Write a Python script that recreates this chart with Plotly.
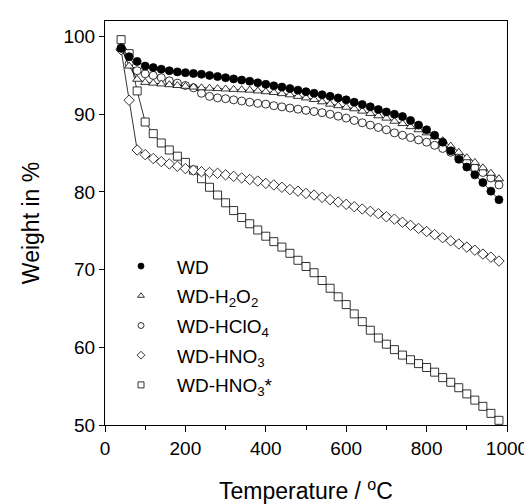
import plotly.graph_objects as go

temp = [40, 60, 80, 100, 120, 140, 160, 180, 200, 220, 240, 260, 280, 300, 320, 340,
        360, 380, 400, 420, 440, 460, 480, 500, 520, 540, 560, 580, 600, 620, 640, 660,
        680, 700, 720, 740, 760, 780, 800, 820, 840, 860, 880, 900, 920, 940, 960, 980]

wd = [98.5, 97.4, 96.8, 96.2, 96.0, 95.8, 95.6, 95.45, 95.35, 95.25, 95.15, 95.0,
      94.85, 94.7, 94.55, 94.4, 94.25, 94.05, 93.85, 93.65, 93.5, 93.3, 93.1, 92.9,
      92.7, 92.5, 92.3, 92.1, 91.85, 91.55, 91.25, 90.95, 90.6, 90.3, 90.0, 89.7,
      89.2, 88.6, 88.0, 87.3, 86.4, 85.3, 84.2, 83.2, 82.2, 81.2, 80.1, 79.0]

wd_h2o2 = [98.6, 96.2, 94.5, 94.1, 94.0, 93.9, 93.8, 93.7, 93.6, 93.5, 93.4, 93.35,
           93.3, 93.25, 93.2, 93.15, 93.1, 93.0, 92.9, 92.8, 92.65, 92.5, 92.3, 92.1,
           91.9, 91.6, 91.3, 91.1, 90.9, 90.7, 90.4, 90.1, 89.8, 89.5, 89.1, 88.8,
           88.4, 88.0, 87.6, 87.1, 86.6, 85.9, 85.1, 84.4, 83.8, 83.1, 82.4, 81.7]

wd_hclo4 = [98.5, 96.5, 95.6, 95.2, 95.0, 94.7, 94.3, 94.0, 93.7, 93.4, 92.7, 92.3,
            92.1, 92.0, 91.85, 91.7, 91.55, 91.4, 91.3, 91.1, 90.95, 90.8, 90.65, 90.5,
            90.35, 90.2, 90.0, 89.75, 89.5, 89.2, 88.9, 88.6, 88.3, 88.0, 87.6, 87.3,
            87.0, 86.7, 86.4, 86.0, 85.6, 85.1, 84.5, 83.8, 83.1, 82.5, 81.8, 80.9]

wd_hno3 = [98.3, 91.8, 85.4, 84.8, 84.3, 83.9, 83.6, 83.3, 83.0, 82.8, 82.6, 82.5,
           82.4, 82.2, 82.0, 81.8, 81.6, 81.4, 81.1, 80.9, 80.6, 80.3, 80.1, 79.8,
           79.6, 79.3, 79.0, 78.7, 78.4, 78.1, 77.8, 77.5, 77.2, 76.8, 76.5, 76.1,
           75.7, 75.3, 74.9, 74.5, 74.1, 73.7, 73.3, 72.9, 72.5, 72.0, 71.6, 71.1]

wd_hno3_star = [99.6, 97.8, 93.0, 89.0, 87.5, 86.3, 85.4, 84.6, 83.8, 82.8, 81.7, 80.6,
                79.6, 78.6, 77.6, 76.7, 75.9, 75.1, 74.3, 73.6, 72.9, 72.1, 71.2, 70.4,
                69.6, 68.6, 67.6, 66.5, 65.5, 64.3, 63.3, 62.2, 61.2, 60.4, 59.7, 59.0,
                58.4, 57.9, 57.4, 56.8, 56.1, 55.5, 54.8, 54.0, 53.2, 52.4, 51.5, 50.6]

names = ['WD', 'WD-H<sub>2</sub>O<sub>2</sub>', 'WD-HClO<sub>4</sub>',
         'WD-HNO<sub>3</sub>', 'WD-HNO<sub>3</sub>*']
series = [wd, wd_h2o2, wd_hclo4, wd_hno3, wd_hno3_star]
symbols = ['circle', 'triangle-up', 'circle', 'diamond', 'square']
fills = ['black', 'white', 'white', 'white', 'white']

font = 'Arial, Liberation Sans, sans-serif'

fig = go.Figure()

# draw curves back to front, WD on top
for i in [4, 3, 2, 1, 0]:
    fig.add_trace(go.Scatter(
        x=temp, y=series[i], mode='lines+markers', showlegend=False,
        line=dict(color='black', width=0.8),
        marker=dict(symbol=symbols[i], size=8, color=fills[i],
                    line=dict(color='black', width=0.8))
    ))

# legend-only entries with small markers
for i in range(5):
    fig.add_trace(go.Scatter(
        x=[None], y=[None], mode='markers', name=names[i], legendgroup=str(i),
        marker=dict(symbol=symbols[i], size=6, color=fills[i],
                    line=dict(color='black', width=0.8))
    ))

fig.update_layout(
    width=532, height=504,
    margin=dict(l=97, r=25, t=13, b=84),
    paper_bgcolor='white', plot_bgcolor='white',
    font=dict(family=font, size=19, color='black'),
    legend=dict(x=0.0, y=0.44, xanchor='left', yanchor='top',
                bgcolor='rgba(0,0,0,0)', itemwidth=62, tracegroupgap=2,
                font=dict(size=19)),
    xaxis=dict(
        range=[0, 1000], tickvals=[0, 200, 400, 600, 800, 1000],
        ticks='outside', ticklen=6, tickcolor='black',
        minor=dict(tickvals=[100, 300, 500, 700, 900], ticks='outside', ticklen=4, tickcolor='black'),
        showline=True, linecolor='black', linewidth=1, mirror=True,
        showgrid=False, zeroline=False,
        title=dict(text='Temperature / <sup>o</sup>C', standoff=25),
    ),
    yaxis=dict(
        range=[50, 102], tickvals=[50, 60, 70, 80, 90, 100],
        ticks='outside', ticklen=5, tickcolor='black',
        showline=True, linecolor='black', linewidth=1, mirror=True,
        showgrid=False, zeroline=False,
        title=dict(text='Weight in %', standoff=17),
    ),
)

fig.write_html('out.html')
